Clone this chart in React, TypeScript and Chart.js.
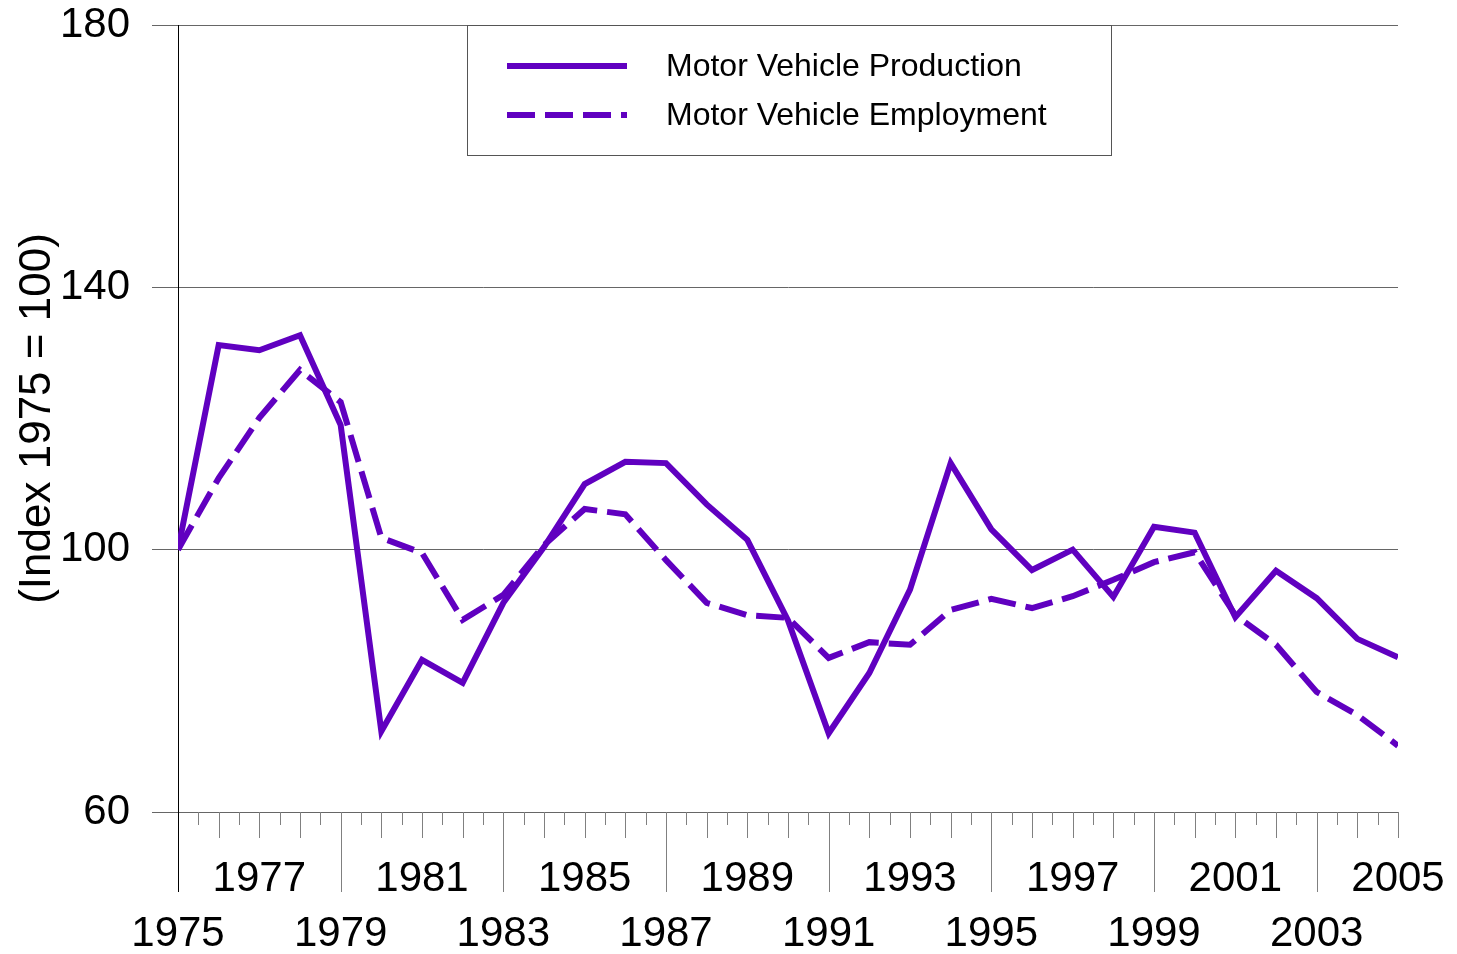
import React, { useEffect, useRef } from "react";
import { Chart, registerables } from "chart.js";

Chart.register(...registerables);

const years = [
  1975, 1976, 1977, 1978, 1979, 1980, 1981, 1982, 1983, 1984, 1985, 1986, 1987, 1988, 1989, 1990,
  1991, 1992, 1993, 1994, 1995, 1996, 1997, 1998, 1999, 2000, 2001, 2002, 2003, 2004, 2005,
];
const production = [
  100, 131.2, 130.4, 132.7, 119, 72.3, 83.2, 79.7, 91.9, 100.4, 110.0, 113.4, 113.2, 106.9, 101.5, 89.2,
  72.0, 81.2, 93.9, 113.2, 103.1, 96.9, 100, 92.8, 103.5, 102.6, 89.7, 96.8, 92.6, 86.4, 83.6,
];
const employment = [
  100, 110.9, 120.1, 127.4, 122.5, 101.8, 99.5, 89.3, 93.1, 100.7, 106.2, 105.4, 98.4, 91.9, 90.0, 89.6,
  83.5, 85.9, 85.5, 90.8, 92.5, 91.1, 92.9, 95.4, 98.1, 99.6, 90.0, 85.5, 78.3, 74.8, 70.1,
];
const seriesLabels = ["Motor Vehicle Production", "Motor Vehicle Employment"];
const xLabelYears = [1975, 1977, 1979, 1981, 1983, 1985, 1987, 1989, 1991, 1993, 1995, 1997, 1999, 2001, 2003, 2005];
const yTicks = [60, 100, 140, 180];
const yTitle = "(Index 1975 = 100)";

const PURPLE = "rgb(96, 0, 192)";
const FONT = "Arial, 'Liberation Sans', sans-serif";

const xTickMarks = {
  id: "xTickMarks",
  afterDraw(chart: any) {
    const ctx = chart.ctx;
    const x = chart.scales.x;
    const bottom = chart.chartArea.bottom;
    ctx.save();
    ctx.lineWidth = 1;
    for (let v = years[0]; v <= years[years.length - 1] + 0.001; v += 0.5) {
      const px = Math.round(x.getPixelForValue(v)) + 0.5;
      let len = 13;
      const isYear = Math.abs(v - Math.round(v)) < 0.01;
      if (isYear) len = 26;
      if (isYear && (Math.round(v) - years[0]) % 4 === 0) len = 80;
      ctx.strokeStyle = v === years[0] ? "#000" : "#808080";
      ctx.beginPath();
      ctx.moveTo(px, bottom);
      ctx.lineTo(px, bottom + len);
      ctx.stroke();
    }
    ctx.restore();
  },
};

const boxLegend = {
  id: "boxLegend",
  afterDraw(chart: any) {
    const ctx = chart.ctx;
    const left = 467.5, top = 25.5, w = 644, h = 130;
    ctx.save();
    ctx.fillStyle = "#fff";
    ctx.fillRect(left, top, w, h);
    ctx.strokeStyle = "#555";
    ctx.lineWidth = 1;
    ctx.strokeRect(left, top, w, h);
    chart.data.datasets.forEach((ds: any, i: number) => {
      const cy = 66 + i * 49;
      ctx.strokeStyle = ds.borderColor;
      ctx.lineWidth = 6;
      ctx.setLineDash(ds.borderDash || []);
      ctx.beginPath();
      ctx.moveTo(507, cy);
      ctx.lineTo(627, cy);
      ctx.stroke();
      ctx.setLineDash([]);
      ctx.fillStyle = "#000";
      ctx.font = `32px ${FONT}`;
      ctx.textBaseline = "middle";
      ctx.textAlign = "left";
      ctx.fillText(ds.label, 666, cy + 1);
    });
    ctx.restore();
  },
};

export default function App() {
  const ref = useRef<HTMLCanvasElement>(null);
  useEffect(() => {
    document.body.style.margin = "0";
    const chart = new Chart(ref.current!, {
      type: "line",
      data: {
        datasets: [
          {
            label: seriesLabels[0],
            data: years.map((y, i) => ({ x: y, y: production[i] })),
            borderColor: PURPLE,
            borderWidth: 6,
            pointRadius: 0,
            tension: 0,
            borderJoinStyle: "miter",
          },
          {
            label: seriesLabels[1],
            data: years.map((y, i) => ({ x: y, y: employment[i] })),
            borderColor: PURPLE,
            borderWidth: 6,
            borderDash: [28, 10],
            pointRadius: 0,
            tension: 0,
          },
        ],
      },
      options: {
        animation: false,
        responsive: false,
        layout: { padding: { top: 25, right: 59, left: 0, bottom: 0 } },
        plugins: { legend: { display: false }, tooltip: { enabled: false } },
        scales: {
          x: {
            type: "linear",
            min: years[0],
            max: years[years.length - 1],
            grid: { display: false, drawTicks: false },
            border: { display: false },
            afterBuildTicks: (scale: any) => {
              scale.ticks = xLabelYears.map((v) => ({ value: v }));
            },
            afterFit: (scale: any) => {
              scale.height = 142;
              scale.paddingLeft = 0;
              scale.paddingRight = 0;
            },
            ticks: {
              autoSkip: false,
              maxRotation: 0,
              padding: 40,
              color: "#000",
              font: { family: FONT, size: 42, lineHeight: 1.31 },
              callback: (v: any) => {
                const n = Math.round(Number(v));
                return (n - years[0]) % 4 === 0 ? ["", String(n)] : [String(n), ""];
              },
            },
          },
          y: {
            min: 60,
            max: 180,
            afterBuildTicks: (scale: any) => {
              scale.ticks = yTicks.map((v) => ({ value: v }));
            },
            afterFit: (scale: any) => {
              scale.width = 178;
              scale.paddingTop = 0;
              scale.paddingBottom = 0;
            },
            grid: { color: "#666", tickLength: 26, lineWidth: 1 },
            border: { display: true, color: "#000", width: 1 },
            ticks: {
              padding: 22,
              color: "#000",
              font: { family: FONT, size: 42, lineHeight: 1 },
            },
            title: {
              display: true,
              text: yTitle,
              color: "#000",
              font: { family: FONT, size: 44, lineHeight: 1.2 },
              padding: { top: 11, bottom: 0 },
            },
          },
        },
      },
      plugins: [xTickMarks, boxLegend],
    });
    return () => chart.destroy();
  }, []);
  return (
    <div style={{ position: "absolute", left: 0, top: 0, width: 1457, height: 954 }}>
      <canvas ref={ref} width={1457} height={954} style={{ display: "block" }} />
    </div>
  );
}
